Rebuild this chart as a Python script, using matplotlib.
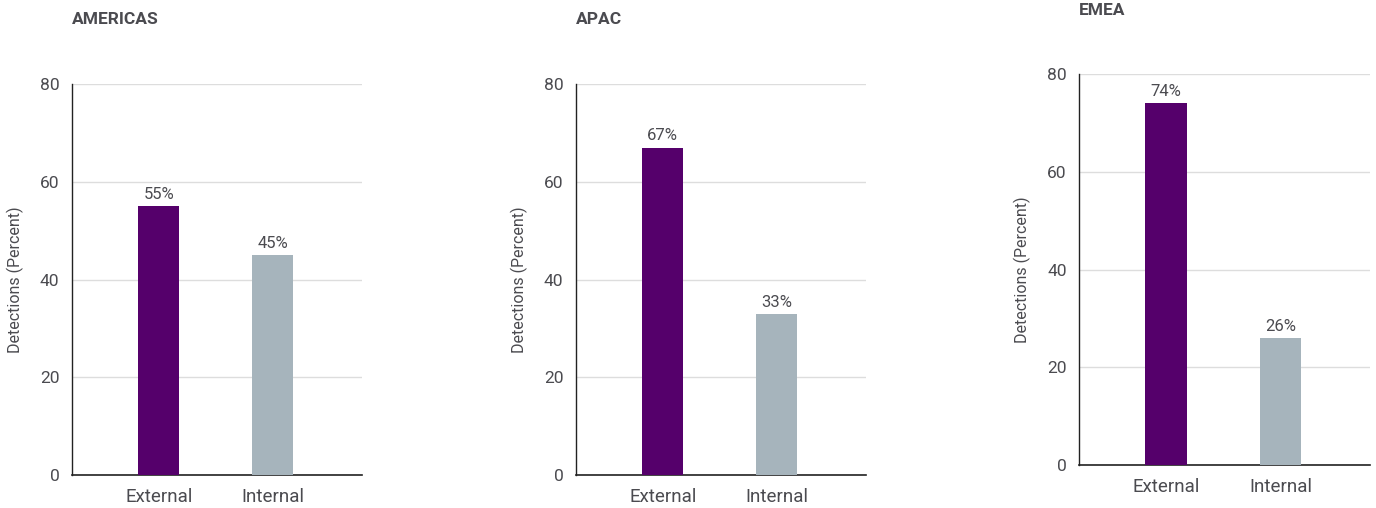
import matplotlib.pyplot as plt

W, H = 1376, 508

regions = ["AMERICAS", "APAC", "EMEA"]
categories = ["External", "Internal"]
values = {
    "AMERICAS": [55, 45],
    "APAC": [67, 33],
    "EMEA": [74, 26],
}
y_ticks = [0, 20, 40, 60, 80]

# axes boxes in pixels: left, top, right, bottom
boxes = {
    "AMERICAS": (72, 84, 362, 475),
    "APAC": (576, 84, 866, 475),
    "EMEA": (1079, 74, 1370, 465),
}

bar_colors = ["#55006b", "#a6b4bc"]
text_color = "#4b4b50"

plt.rcParams['font.family'] = ['Roboto', 'DejaVu Sans']

fig = plt.figure(figsize=(W / 100, H / 100), dpi=100)

for region in regions:
    l, t, r, b = boxes[region]
    ax = fig.add_axes([l / W, 1 - b / H, (r - l) / W, (b - t) / H])
    x = range(len(categories))
    bars = ax.bar(x, values[region], width=0.36, color=bar_colors, zorder=3)
    for bar, v in zip(bars, values[region]):
        ax.annotate(f"{v}%", (bar.get_x() + bar.get_width() / 2, bar.get_height()),
                    xytext=(0, 3), textcoords="offset points", ha="center", va="bottom",
                    fontsize=12, color=text_color)
    ax.set_xlim(-0.76, 1.78)
    ax.set_ylim(0, 80)
    ax.set_yticks(y_ticks)
    ax.set_xticks(list(x))
    ax.set_xticklabels(categories)
    ax.tick_params(axis="both", length=0, colors=text_color)
    ax.tick_params(axis="y", pad=9, labelsize=12.5)
    ax.tick_params(axis="x", pad=9.5, labelsize=13.5)
    ax.grid(axis="y", color="#dddddd", linewidth=1, zorder=0)
    for s in ["top", "right"]:
        ax.spines[s].set_visible(False)
    ax.spines["left"].set_color("#222222")
    ax.spines["bottom"].set_color("#222222")
    ax.spines["left"].set_linewidth(1)
    ax.spines["bottom"].set_linewidth(1.2)
    ax.set_ylabel("Detections (Percent)", fontsize=11.5, color=text_color)
    ax.yaxis.set_label_coords(-48 / (r - l), 0.5)
    ax.text(0, (b - (t - 64)) / (b - t), region, transform=ax.transAxes,
            fontsize=12.5, fontweight="bold", color=text_color, ha="left", va="center")

fig.savefig("out.png", dpi=100)
